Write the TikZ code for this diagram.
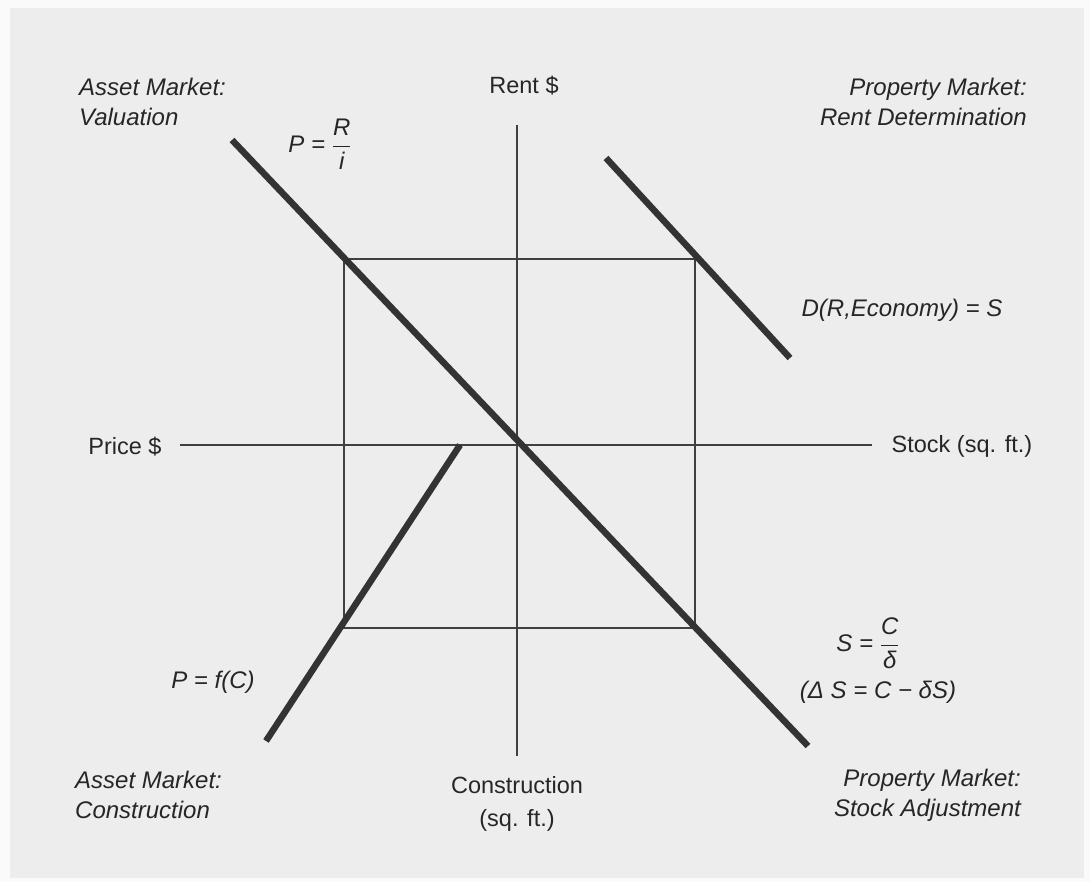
\documentclass[tikz,border=0pt]{standalone}
\usepackage{fontspec}
\setmainfont{Liberation Sans}
\begin{document}
\begin{tikzpicture}[x=1pt,y=-1pt,
  lbl/.style={font=\fontsize{24}{30}\selectfont\itshape, text=black!85, inner sep=0pt},
  axlbl/.style={font=\fontsize{23.5}{33}\selectfont, text=black!85, inner sep=0pt},
  thin/.style={draw=black!75, line width=1.6pt},
  thick/.style={draw=black!80, line width=6.5pt}]
\useasboundingbox (0,0) rectangle (1090,882);
\fill[black!2] (0,0) rectangle (1090,882);
\fill[black!7] (10,8) rectangle (1084,878);
% coordinates
\coordinate (vtop) at (517,125);
\coordinate (vbot) at (517,756);
\coordinate (hleft) at (180,445);
\coordinate (hright) at (872,445);
\coordinate (r1) at (344,259);
\coordinate (r2) at (695,259);
\coordinate (r3) at (695,628);
\coordinate (r4) at (344,628);
\coordinate (va) at (232,140);
\coordinate (vb) at (808,746);
\coordinate (pa) at (606,158);
\coordinate (pb) at (790,358);
\coordinate (ca) at (460,445);
\coordinate (cb) at (266,741);
% thin lines
\draw[thin] (vtop) -- (vbot);
\draw[thin] (hleft) -- (hright);
\draw[thin] (r1) -- (r2) -- (r3) -- (r4) -- cycle;
% thick lines
\draw[thick] (va) -- (vb);
\draw[thick] (pa) -- (pb);
\draw[thick] (ca) -- (cb);
% labels
\node[lbl, anchor=west, align=left] (avq) at (79,102) {Asset Market:\\Valuation};
\node[axlbl] (rent) at (524,86) {Rent \$};
\node[lbl, anchor=east, align=right] (prd) at (1027,102) {Property Market:\\Rent Determination};
\node[lbl] (pri) at (320,144) {P = $\displaystyle\frac{\textit{R}}{\textit{i}}$};
\node[lbl] (dre) at (902,310) {D(R,Economy) = S};
\node[axlbl] (price) at (125,447) {Price \$};
\node[axlbl] (stock) at (962,446) {Stock (sq. ft.)};
\node[lbl] (scd) at (868,643) {S = $\displaystyle\frac{\textit{C}}{\textit{δ}}$};
\node[lbl] (dsc) at (878,692) {(Δ S = C − δS)};
\node[lbl] (pfc) at (213,682) {P = f(C)};
\node[lbl, anchor=west, align=left] (amc) at (75,795) {Asset Market:\\Construction};
\node[axlbl, align=center] (con) at (517,804) {Construction\\(sq. ft.)};
\node[lbl, anchor=east, align=right] (psa) at (1021,795) {Property Market:\\Stock Adjustment};
\end{tikzpicture}
\end{document}
